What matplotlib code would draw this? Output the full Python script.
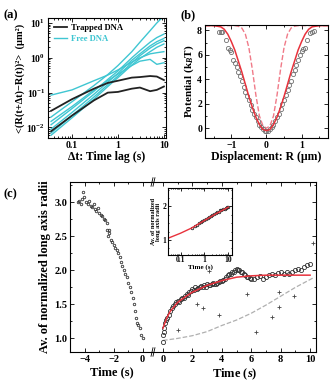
import numpy as np
import matplotlib
matplotlib.use("Agg")
import matplotlib.pyplot as plt
from matplotlib.ticker import MultipleLocator, LogLocator, NullFormatter, FixedLocator

plt.rcParams['font.family'] = ['Liberation Serif', 'DejaVu Serif']
plt.rcParams['font.weight'] = 'bold'
plt.rcParams['axes.labelweight'] = 'bold'
plt.rcParams['mathtext.fontset'] = 'custom'
plt.rcParams['mathtext.rm'] = 'Liberation Serif:bold'
plt.rcParams['mathtext.it'] = 'Liberation Serif:bold:italic'
plt.rcParams['mathtext.bf'] = 'Liberation Serif:bold'

# ---- (a) MSD, log-log ----
lag = [0.035, 0.1, 0.3, 0.6, 1.0, 2.0, 3.0, 5.0, 7.0, 10.0]
trapped_1 = [0.030, 0.065, 0.13, 0.19, 0.22, 0.27, 0.28, 0.30, 0.29, 0.23]
trapped_2 = [0.0078, 0.022, 0.06, 0.10, 0.105, 0.13, 0.14, 0.11, 0.12, 0.15]
free_lines = [
    [0.085, 0.12, 0.22, 0.32, 0.45, 0.75, 1.0, 1.3, 1.4, 1.5],
    [0.020, 0.055, 0.16, 0.33, 0.6, 1.5, 2.8, 6.0, 10.0, 16.0],
    [0.012, 0.035, 0.11, 0.24, 0.42, 1.0, 1.6, 2.8, 3.8, 4.8],
    [0.009, 0.027, 0.09, 0.2, 0.36, 0.85, 1.3, 2.2, 2.9, 3.6],
    [0.007, 0.022, 0.075, 0.17, 0.3, 0.72, 1.15, 1.9, 2.5, 3.1],
    [0.015, 0.04, 0.12, 0.22, 0.34, 0.6, 0.8, 0.9, 0.65, 0.72],
    [0.006, 0.019, 0.065, 0.15, 0.27, 0.62, 0.95, 1.5, 2.0, 2.5],
]

# ---- (b) potential ----
pot_x = [-1.75, -1.5, -1.3, -1.2, -1.1, -1.0, -0.9, -0.8, -0.7, -0.6, -0.5, -0.4, -0.3,
         -0.2, -0.1, 0.0, 0.1, 0.2, 0.3, 0.4, 0.5, 0.6, 0.7, 0.8, 0.9, 1.0, 1.1, 1.2,
         1.3, 1.5, 1.75]
pot_fit = [8.4, 8.4, 8.3, 8.1, 7.7, 7.1, 6.4, 5.5, 4.6, 3.6, 2.6, 1.7, 0.9, 0.3, -0.1,
           -0.2, -0.1, 0.3, 0.9, 1.7, 2.6, 3.6, 4.6, 5.5, 6.4, 7.1, 7.7, 8.1, 8.3, 8.4, 8.4]
pot_trap = [8.4, 8.4, 8.4, 8.4, 8.4, 8.4, 8.4, 8.35, 8.2, 7.7, 6.6, 4.8, 2.7, 1.0, 0.2,
            0.0, 0.2, 1.0, 2.7, 4.8, 6.6, 7.7, 8.2, 8.35, 8.4, 8.4, 8.4, 8.4, 8.4, 8.4, 8.4]
circ_x = [-1.35, -1.3, -1.25, -1.15, -1.1, -1.05, -1.0, -0.95, -0.9, -0.85, -0.8, -0.75,
          -0.7, -0.65, -0.6, -0.55, -0.5, -0.45, -0.4, -0.35, -0.3, -0.25, -0.2, -0.15,
          -0.1, -0.05, 0.0, 0.05, 0.1, 0.15, 0.2, 0.25, 0.3, 0.35, 0.4, 0.45, 0.5, 0.55,
          0.6, 0.65, 0.7, 0.75, 0.8, 0.85, 0.9, 0.95, 1.0, 1.05, 1.1, 1.15, 1.25, 1.3, 1.35]
circ_y = [7.9, 7.85, 7.9, 7.2, 6.6, 6.4, 6.2, 5.6, 5.3, 5.0, 4.6, 4.3, 3.9, 3.4, 3.0,
          2.6, 2.3, 1.9, 1.5, 1.2, 0.9, 0.6, 0.3, 0.1, -0.1, -0.2, -0.25, -0.2, -0.1,
          0.1, 0.3, 0.6, 0.9, 1.2, 1.6, 2.0, 2.3, 2.7, 3.1, 3.5, 3.9, 4.4, 4.8, 5.2,
          5.6, 6.0, 6.3, 6.5, 6.6, 7.2, 7.8, 7.9, 7.95]

# ---- (c) long axis radii ----
t_before = [-4.5, -4.4, -4.3, -4.2, -4.1, -4.05, -3.95, -3.8, -3.7, -3.6, -3.5, -3.4,
            -3.3, -3.2, -3.1, -3.0, -2.9, -2.8, -2.7, -2.6, -2.5, -2.45, -2.4, -2.35,
            -2.3, -2.2, -2.1, -2.0, -1.9, -1.8, -1.7, -1.6, -1.5, -1.4, -1.3, -1.2,
            -1.1, -1.0, -0.9, -0.8, -0.7, -0.6, -0.5, -0.45, -0.4, -0.3, -0.2, -0.1, 0.0]
r_before = [3.0, 3.02, 2.98, 3.05, 3.15, 3.08, 3.0, 2.97, 3.02, 2.95, 2.93, 2.97, 2.9,
            2.88, 2.92, 2.85, 2.82, 2.8, 2.75, 2.74, 2.7, 2.6, 2.5, 2.55, 2.6, 2.45,
            2.42, 2.38, 2.33, 2.3, 2.25, 2.2, 2.13, 2.07, 2.0, 1.95, 1.9, 1.82, 1.75,
            1.68, 1.6, 1.5, 1.4, 1.3, 1.22, 1.2, 1.15, 1.05, 1.0]
t_after = [0.0, 0.0, 0.05, 0.1, 0.15, 0.2, 0.3, 0.4, 0.5, 0.6, 0.7, 0.8, 0.9, 1.0, 1.1,
           1.2, 1.3, 1.4, 1.5, 1.6, 1.7, 1.8, 1.9, 2.0, 2.1, 2.2, 2.3, 2.4, 2.5, 2.6,
           2.7, 2.8, 2.9, 3.0, 3.1, 3.2, 3.3, 3.4, 3.5, 3.6, 3.7, 3.8, 3.9, 4.0, 4.1,
           4.2, 4.3, 4.4, 4.5, 4.6, 4.7, 4.8, 4.9, 5.0, 5.1, 5.2, 5.3, 5.4, 5.5, 5.6,
           5.7, 5.8, 5.9, 6.0, 6.2, 6.4, 6.6, 6.8, 7.0, 7.2, 7.4, 7.6, 7.8, 8.0, 8.2,
           8.4, 8.6, 8.8, 9.0, 9.2, 9.4, 9.6, 9.8, 10.0]
r_after = [0.95, 1.05, 1.1, 1.15, 1.22, 1.27, 1.3, 1.35, 1.4, 1.45, 1.48, 1.5, 1.53,
           1.55, 1.54, 1.58, 1.6, 1.6, 1.63, 1.65, 1.64, 1.68, 1.7, 1.72, 1.71, 1.75,
           1.73, 1.74, 1.76, 1.77, 1.75, 1.78, 1.76, 1.8, 1.79, 1.78, 1.8, 1.82, 1.8,
           1.8, 1.82, 1.83, 1.84, 1.85, 1.86, 1.88, 1.9, 1.93, 1.94, 1.95, 1.97, 1.98,
           2.0, 2.02, 2.01, 2.0, 1.98, 1.97, 1.95, 1.93, 1.91, 1.9, 1.89, 1.88, 1.87,
           1.9, 1.92, 1.88, 1.9, 1.93, 1.95, 1.93, 1.96, 1.98, 1.95, 1.97, 1.95, 1.98,
           2.0, 2.02, 2.0, 2.05, 2.08, 2.1]
fit_t = [0.0, 0.25, 0.5, 1.0, 1.5, 2.0, 3.0, 4.0, 5.0, 6.0, 7.0, 8.0, 9.0, 10.0]
fit_r = [1.15, 1.3, 1.4, 1.53, 1.61, 1.68, 1.78, 1.85, 1.9, 1.92, 1.93, 1.93, 1.93, 1.93]
ctrl_t = [0.0, 1.0, 2.0, 3.0, 4.0, 5.0, 6.0, 7.0, 8.0, 9.0, 10.3]
ctrl_r = [0.97, 1.0, 1.04, 1.1, 1.19, 1.27, 1.37, 1.49, 1.62, 1.75, 1.9]
plus_t = [1.0, 2.3, 2.7, 3.1, 3.8, 5.7, 6.3, 7.4, 7.9, 7.9, 8.9, 10.2]
plus_r = [1.12, 1.51, 1.45, 1.99, 1.34, 1.66, 1.09, 1.31, 1.46, 1.68, 1.63, 2.41]

# inset (log time)
ins_t = [0.3, 0.4, 0.5, 0.6, 0.7, 0.8, 1.0, 1.2, 1.4, 1.6, 1.8, 2.0, 2.5, 3.0, 3.5,
         4.0, 4.5, 5.0, 6.0, 7.0, 8.0, 9.0, 10.0]
ins_r = [1.36, 1.42, 1.45, 1.5, 1.52, 1.55, 1.6, 1.62, 1.66, 1.68, 1.7, 1.74, 1.76,
         1.8, 1.82, 1.83, 1.88, 1.9, 1.91, 1.93, 1.95, 1.97, 1.99]
ins_fit_t = [0.03, 0.1, 0.3, 1.0, 3.0, 10.0]
ins_fit_r = [1.05, 1.2, 1.36, 1.58, 1.78, 1.98]

cyan = '#3fc6d2'
red = '#e8323c'
pink = '#f07a88'

fig = plt.figure(figsize=(3.31, 3.85), dpi=100)


def style(ax, fs=7):
    ax.tick_params(which='both', direction='in', top=True, right=True, labelsize=fs,
                   width=0.6, pad=2)
    ax.tick_params(which='major', length=3)
    ax.tick_params(which='minor', length=1.5)
    for s in ax.spines.values():
        s.set_linewidth(0.8)
    for lab in ax.get_xticklabels() + ax.get_yticklabels():
        lab.set_fontweight('bold')


# (a)
axa = fig.add_axes([0.145, 0.6416, 0.356, 0.312])
for ys in free_lines:
    axa.plot(lag, ys, color=cyan, lw=1.0)
axa.plot(lag, trapped_1, color='#222222', lw=1.3)
axa.plot(lag, trapped_2, color='#222222', lw=1.3)
axa.set_xscale('log')
axa.set_yscale('log')
axa.set_xlim(0.03, 11)
axa.set_ylim(0.005, 14)
axa.set_xticks([0.1, 1, 10])
axa.set_xticklabels(['0.1', '1', '10'])
axa.xaxis.set_minor_formatter(NullFormatter())
style(axa)
axa.set_xlabel('\u0394t: Time lag (s)', fontsize=8.5, labelpad=1)
axa.set_ylabel('<(R(t+\u0394t)\u2212R(t))\u00b2>  (\u03bcm\u00b2)', fontsize=7.5, labelpad=1)
axa.plot([], [], color='#222222', lw=1.3, label='Trapped DNA')
axa.plot([], [], color=cyan, lw=1.0, label='Free DNA')
leg = axa.legend(loc='upper left', frameon=False, fontsize=6.2, handlelength=1.5,
                 borderaxespad=0.3, labelspacing=0.3, handletextpad=0.5)
leg.get_texts()[1].set_color(cyan)
fig.text(0.01, 0.975, '(a)', fontsize=9, fontweight='bold', va='top')

# (b)
axb = fig.add_axes([0.619, 0.6416, 0.372, 0.2935])
axb.plot(pot_x, pot_trap, color=pink, lw=1.0, ls='--')
axb.plot(circ_x, circ_y, 'o', mfc='none', mec='#707070', ms=3.0, mew=0.6)
axb.plot(pot_x, pot_fit, color=red, lw=1.1)
axb.set_xlim(-1.75, 1.75)
axb.set_ylim(-0.8, 8.45)
axb.xaxis.set_major_locator(FixedLocator([-1, 0, 1]))
axb.xaxis.set_minor_locator(MultipleLocator(0.5))
axb.yaxis.set_major_locator(MultipleLocator(2))
axb.yaxis.set_minor_locator(MultipleLocator(1))
style(axb)
axb.set_xlabel('Displacement: R (\u03bcm)', fontsize=8.5, labelpad=1)
axb.set_ylabel('Potential (k$_B$T)', fontsize=8, labelpad=1)
fig.text(0.545, 0.975, '(b)', fontsize=9, fontweight='bold', va='top')

# (c) left part
axl = fig.add_axes([0.2115, 0.0857, 0.251, 0.4416])
axl.plot(t_before, r_before, 'o', mfc='none', mec='#333333', ms=1.8, mew=0.6)
axl.set_xlim(-5.03, 0.72)
axl.set_ylim(0.8, 3.3)
axl.xaxis.set_major_locator(MultipleLocator(2))
axl.xaxis.set_minor_locator(MultipleLocator(1))
axl.yaxis.set_minor_locator(MultipleLocator(0.25))
axl.set_yticks([1.0, 1.5, 2.0, 2.5, 3.0])
axl.set_yticklabels(['1.0', '1.5', '2.0', '2.5', '3.0'])
style(axl, fs=7.5)
axl.tick_params(which='both', right=False)
axl.spines['right'].set_visible(False)
axl.set_xlabel('Time (s)', fontsize=9, labelpad=2)
axl.set_ylabel('Av. of normalized long axis radii', fontsize=9, labelpad=2)
fig.text(0.01, 0.51, '(c)', fontsize=9, fontweight='bold', va='top')

# (c) right part
axr = fig.add_axes([0.4622, 0.0857, 0.4924, 0.4416])
axr.plot(ctrl_t, ctrl_r, color='#b0b0b0', lw=0.9, ls='--')
axr.plot(plus_t, plus_r, '+', color='#444444', ms=3.5, mew=0.6)
axr.plot(t_after, r_after, 'o', mfc='none', mec='#333333', ms=3.0, mew=0.6)
axr.plot(fit_t, fit_r, color=red, lw=1.1)
axr.set_xlim(-0.68, 10.4)
axr.set_ylim(0.8, 3.3)
axr.xaxis.set_major_locator(MultipleLocator(2))
axr.xaxis.set_minor_locator(MultipleLocator(1))
axr.yaxis.set_major_locator(MultipleLocator(0.5))
axr.yaxis.set_minor_locator(MultipleLocator(0.25))
style(axr, fs=7.5)
axr.tick_params(which='both', left=False, labelleft=False)
axr.spines['left'].set_visible(False)
axr.set_xlabel('Time ($s$)', fontsize=9, labelpad=2)

# break marks
for yy in (0.0, 1.0):
    for dx in (-0.006, 0.006):
        axr.plot([dx - 0.006, dx + 0.006], [yy - 0.025, yy + 0.025],
                 transform=axr.transAxes, color='black', lw=0.6, clip_on=False)

# inset
axi = fig.add_axes([0.5076, 0.3377, 0.193, 0.174])
axi.plot(ins_t, ins_r, 'o', mfc='none', mec='#222222', ms=1.8, mew=0.6)
axi.plot(ins_fit_t, ins_fit_r, color=red, lw=1.0)
axi.set_xscale('log')
axi.set_xlim(0.03, 14)
axi.set_ylim(0.55, 2.55)
axi.set_xticks([0.1, 1, 10])
axi.set_xticklabels(['0.1', '1', '10'])
axi.xaxis.set_minor_formatter(NullFormatter())
axi.yaxis.set_major_locator(FixedLocator([1, 2]))
axi.yaxis.set_minor_locator(MultipleLocator(0.25))
style(axi, fs=5.5)
axi.tick_params(which='major', length=2, pad=1)
axi.tick_params(which='minor', length=1)
axi.set_xlabel('Time (s)', fontsize=5, labelpad=0)
axi.set_ylabel('Av. of normalized\nlong axis radii', fontsize=4.5, labelpad=1)

fig.savefig('out.png', dpi=100)
